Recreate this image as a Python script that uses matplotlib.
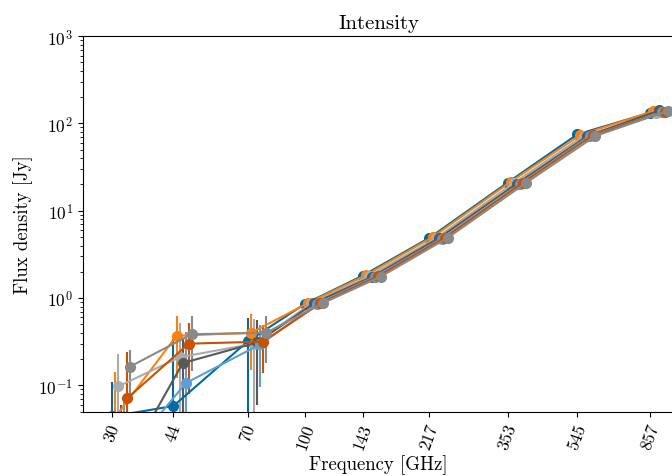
import matplotlib
matplotlib.use("Agg")
import matplotlib.pyplot as plt
from matplotlib.ticker import NullLocator, FixedLocator, FixedFormatter

plt.rcParams["font.family"] = "serif"
plt.rcParams["font.serif"] = ["cmr10"]
plt.rcParams["mathtext.fontset"] = "cm"
plt.rcParams["axes.formatter.use_mathtext"] = True
plt.rcParams["axes.unicode_minus"] = False

# Planck bands
freqs = [30, 44, 70, 100, 143, 217, 353, 545, 857]
freq_labels = ["30", "44", "70", "100", "143", "217", "353", "545", "857"]

# Flux density per map [Jy]
flux_1 = [0.044, 0.058, 0.32, 0.86, 1.80, 4.9, 21.0, 75, 133]
flux_2 = [0.043, 0.37, 0.40, 0.88, 1.82, 5.0, 21.5, 74, 138]
flux_3 = [0.097, 0.21, 0.30, 0.87, 1.78, 4.85, 20.8, 72, 132]
flux_4 = [0.010, 0.18, 0.31, 0.88, 1.75, 4.85, 20.5, 71, 141]
flux_5 = [0.015, 0.106, 0.295, 0.86, 1.76, 4.8, 20.2, 72, 134]
flux_6 = [0.071, 0.30, 0.317, 0.87, 1.78, 4.9, 21.0, 73, 136]
flux_7 = [0.164, 0.385, 0.40, 0.88, 1.76, 4.9, 20.8, 72, 140]

# 1-sigma uncertainties [Jy]
err_1 = [0.064, 0.28, 0.27, 0.02, 0.03, 0.1, 0.4, 1.5, 4]
err_2 = [0.10, 0.25, 0.25, 0.02, 0.03, 0.1, 0.4, 1.5, 4]
err_3 = [0.134, 0.31, 0.27, 0.02, 0.03, 0.1, 0.4, 1.5, 4]
err_4 = [0.05, 0.16, 0.25, 0.02, 0.03, 0.1, 0.4, 1.5, 4]
err_5 = [0.05, 0.30, 0.20, 0.02, 0.03, 0.1, 0.4, 1.5, 4]
err_6 = [0.17, 0.22, 0.18, 0.02, 0.03, 0.1, 0.4, 1.5, 4]
err_7 = [0.09, 0.24, 0.22, 0.02, 0.03, 0.1, 0.4, 1.5, 4]

fluxes = [flux_1, flux_2, flux_3, flux_4, flux_5, flux_6, flux_7]
errors = [err_1, err_2, err_3, err_4, err_5, err_6, err_7]
colors = ["#006BA4", "#FF800E", "#ABABAB", "#595959", "#5F9ED1", "#C85200", "#898989"]

fig = plt.figure(figsize=(6.72, 4.77), dpi=100)
ax = fig.add_axes([0.123, 0.135, 0.881, 0.787])

for i, (f, e) in enumerate(zip(fluxes, errors)):
    # shift each map a little in frequency so the points don't overlap
    x = [nu * (1 + 0.02 * i) for nu in freqs]
    ax.errorbar(x, f, yerr=e, fmt="o-", color=colors[i], ms=7, lw=1.5,
                elinewidth=1.5, capsize=0)

ax.set_xscale("log")
ax.set_yscale("log")
ax.set_xlim(25, 1000)
ax.set_ylim(0.05, 1000)
ax.xaxis.set_major_locator(FixedLocator(freqs))
ax.xaxis.set_major_formatter(FixedFormatter(freq_labels))
ax.xaxis.set_minor_locator(NullLocator())
plt.setp(ax.get_xticklabels(), rotation=70)
ax.tick_params(labelsize=12.5)

ax.set_xlabel("Frequency [GHz]", fontsize=13.5, labelpad=2)
ax.set_ylabel("Flux density [Jy]", fontsize=13.5)
ax.set_title("Intensity", fontsize=15)

fig.savefig("out.png", dpi=100)
